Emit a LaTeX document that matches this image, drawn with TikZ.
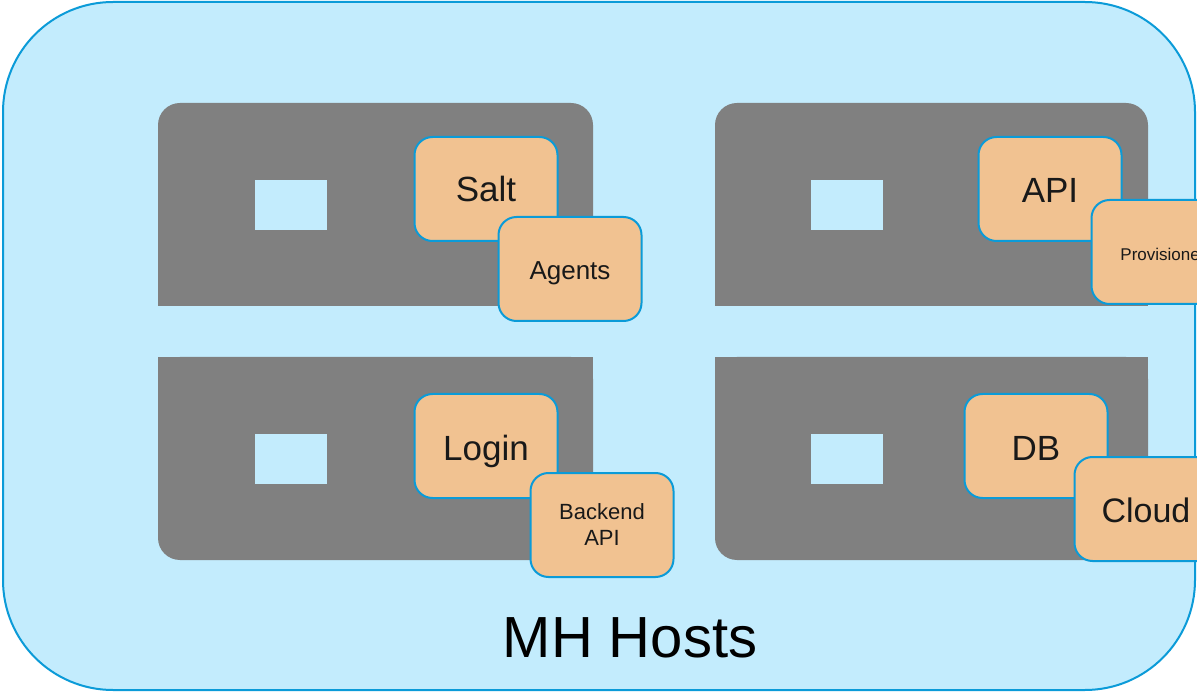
\documentclass[tikz,border=0pt]{standalone}
\usepackage{fontspec}
\setmainfont{Liberation Sans}
\definecolor{hostfill}{HTML}{C3ECFD}
\definecolor{hostline}{HTML}{0B9BD8}
\definecolor{rackgray}{HTML}{808080}
\definecolor{svcfill}{HTML}{F1C291}
\newcommand{\fs}[1]{\fontsize{#1}{#1}\selectfont}
\tikzset{
  svc/.style={draw=hostline, line width=2pt, fill=svcfill, rounded corners=18pt,
    minimum width=143pt, minimum height=104pt, inner sep=0pt, align=center,
    text=black!90},
  lbl/.style={text=black!90, inner sep=0pt},
  rack/.style={fill=rackgray},
  window/.style={fill=hostfill},
}
\begin{document}
\begin{tikzpicture}[x=1pt, y=-1pt]
\useasboundingbox (0,0) rectangle (1197,692);
\clip (0,0) rectangle (1197,692);
\fill[white] (0,0) rectangle (1197,692);

% outer host area
\draw[hostline, line width=2pt, fill=hostfill, rounded corners=110pt] (3,2) rectangle (1195,690);

% upper racks: rounded on top only
\fill[rack, rounded corners=22pt] (158,103) rectangle (593,306);
\fill[rack] (158,200) rectangle (593,306);
\fill[rack, rounded corners=22pt] (715,103) rectangle (1148,306);
\fill[rack] (715,200) rectangle (1148,306);
% lower racks: rounded at the bottom only
\fill[rack, rounded corners=22pt] (158,357) rectangle (593,560);
\fill[rack] (158,357) rectangle (593,460);
\fill[rack, rounded corners=22pt] (715,357) rectangle (1148,560);
\fill[rack] (715,357) rectangle (1148,460);

% rack windows
\fill[window] (255,180) rectangle (327,230);
\fill[window] (811,180) rectangle (883,230);
\fill[window] (255,434) rectangle (327,484);
\fill[window] (811,434) rectangle (883,484);

% services (box and label placed separately so each label sits on its cap line)
\node[svc] (salt) at (486,189) {};
\node[lbl, font=\fs{35}] (saltlbl) at (486,189) {Salt};
\node[svc] (agents) at (570,269) {};
\node[lbl, font=\fs{26}] (agentslbl) at (570,273) {Agents};
\node[svc] (api) at (1050,189) {};
\node[lbl, font=\fs{35}] (apilbl) at (1050,190) {API};
\node[svc] (prov) at (1163,252) {};
\node[lbl, font=\fs{17}] (provlbl) at (1163,254) {Provisioner};
\node[svc] (login) at (486,446) {};
\node[lbl, font=\fs{35}] (loginlbl) at (486,451) {Login};
\node[svc, font=\fs{22}] (backend) at (602,525) {Backend\\[4pt]API};
\node[svc] (db) at (1036,446) {};
\node[lbl, font=\fs{35}] (dblbl) at (1036,448) {DB};
\node[svc] (cloud) at (1146,509) {};
\node[lbl, font=\fs{34}] (cloudlbl) at (1146,510) {Cloud};

% caption
\node[font=\fs{58}, text=black] (title) at (630,638) {MH Hosts};
\end{tikzpicture}
\end{document}
